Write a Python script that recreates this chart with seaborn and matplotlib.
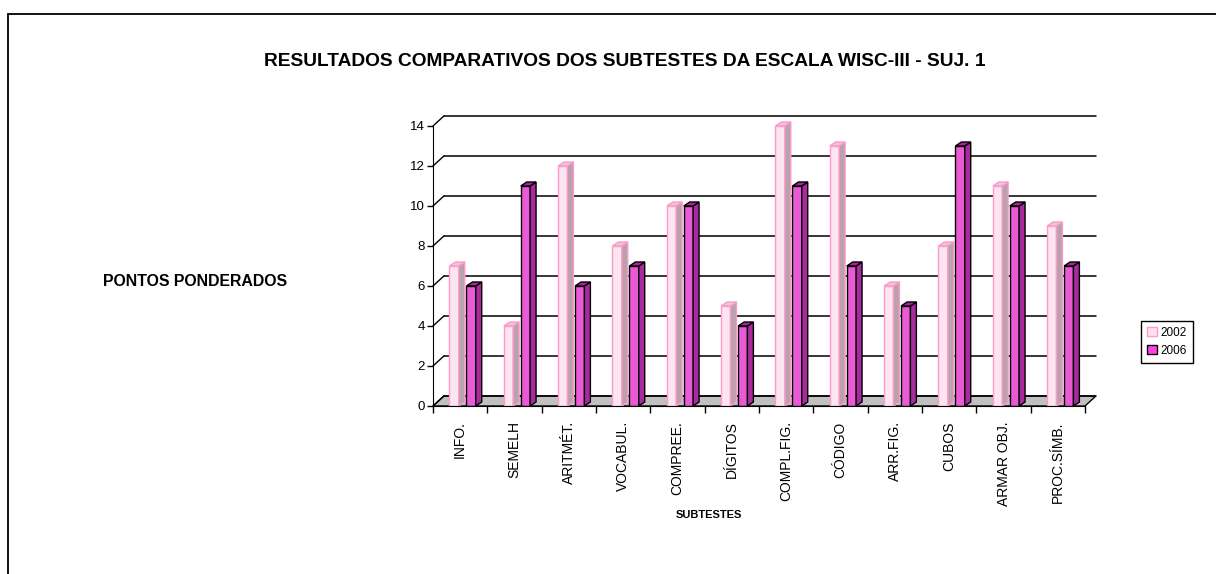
import numpy as np
import pandas as pd
import matplotlib.pyplot as plt
import seaborn as sns
from matplotlib.patches import Polygon, Patch, Rectangle

# Subtestes da escala WISC-III e pontos ponderados
subtestes = ["INFO.", "SEMELH", "ARITMÉT.", "VOCABUL.", "COMPREE.", "DÍGITOS",
             "COMPL.FIG.", "CÓDIGO", "ARR.FIG.", "CUBOS", "ARMAR OBJ.", "PROC.SÍMB."]
anos = ["2002", "2006"]
pontos_2002 = [7, 4, 12, 8, 10, 5, 14, 13, 6, 8, 11, 9]
pontos_2006 = [6, 11, 6, 7, 10, 4, 11, 7, 5, 13, 10, 7]
y_ticks = [0, 2, 4, 6, 8, 10, 12, 14]

df = pd.DataFrame({
    "subteste": subtestes * 2,
    "ano": [anos[0]] * len(subtestes) + [anos[1]] * len(subtestes),
    "pontos": pontos_2002 + pontos_2006,
})

sns.set_style("white")
plt.rcParams["font.family"] = ["Liberation Sans", "DejaVu Sans"]
plt.rcParams["text.color"] = "black"
plt.rcParams["xtick.color"] = "black"
plt.rcParams["ytick.color"] = "black"

face = {"2002": "#FFE2F0", "2006": "#FF44E6"}
side = {"2002": "#B8A2AC", "2006": "#A82A9C"}
top = {"2002": "#E6C8D6", "2006": "#B020A0"}
edge = {"2002": "#FF99CC", "2006": "#000000"}

W, H = 1216, 574
fig = plt.figure(figsize=(W / 100, H / 100), dpi=100)
ax = fig.add_axes([433 / W, 168 / H, 652 / W, 280 / H])

sns.barplot(data=df, x="subteste", y="pontos", hue="ano", hue_order=anos,
            palette=[face[a] for a in anos], width=0.624, gap=0.45,
            legend=False, ax=ax, zorder=3)

ax.set_xlim(-0.5, len(subtestes) - 0.5)
ax.set_ylim(0, 14)

# profundidade do "3D"
wall_dx, wall_dy = 0.2, 0.5
bar_dx, bar_dy = 0.11, 0.2
x0, x1 = -0.5, len(subtestes) - 0.5

# chão cinza
ax.add_patch(Polygon([(x0, 0), (x1, 0), (x1 + wall_dx, wall_dy), (x0 + wall_dx, wall_dy)],
                     closed=True, facecolor="#C0C0C0", edgecolor="black", lw=1,
                     zorder=1, clip_on=False))
# linhas de grade na parede do fundo
for v in y_ticks:
    ax.plot([x0 + wall_dx, x1 + wall_dx], [v + wall_dy, v + wall_dy], color="black",
            lw=1.1, zorder=1.5, clip_on=False)
    ax.plot([x0, x0 + wall_dx], [v, v + wall_dy], color="black", lw=1,
            zorder=1.5, clip_on=False)

# barras com lado e topo
for ano, cont in zip(anos, ax.containers):
    for bar in cont:
        bar.set_x(bar.get_x() + 0.045)
        bar.set_edgecolor(edge[ano])
        bar.set_linewidth(1)
        bx0 = bar.get_x()
        bx1 = bx0 + bar.get_width()
        h = bar.get_height()
        ax.add_patch(Polygon([(bx1, 0), (bx1 + bar_dx, bar_dy), (bx1 + bar_dx, h + bar_dy), (bx1, h)],
                             closed=True, facecolor=side[ano], edgecolor=edge[ano],
                             lw=1, zorder=3, clip_on=False))
        ax.add_patch(Polygon([(bx0, h), (bx1, h), (bx1 + bar_dx, h + bar_dy), (bx0 + bar_dx, h + bar_dy)],
                             closed=True, facecolor=top[ano], edgecolor=edge[ano],
                             lw=1, zorder=3, clip_on=False))

sns.despine(ax=ax, top=True, right=True)
ax.spines["left"].set_color("black")
ax.spines["bottom"].set_color("black")
ax.spines["left"].set_zorder(4)
ax.spines["bottom"].set_zorder(4)

ax.set_yticks(y_ticks)
ax.tick_params(axis="y", direction="out", length=4, width=1, pad=2, labelsize=9.5,
               left=True)
ax.set_xticks(np.arange(-0.5, len(subtestes), 1), minor=True)
ax.tick_params(axis="x", which="major", length=0, pad=11, labelsize=10,
               labelrotation=90)
ax.tick_params(axis="x", which="minor", direction="out", length=5, width=1,
               bottom=True)
ax.set_xlabel("")
ax.set_ylabel("")

fig.text(625 / W, 1 - 62 / H,
         "RESULTADOS COMPARATIVOS DOS SUBTESTES DA ESCALA WISC-III - SUJ. 1",
         ha="center", va="center", fontsize=13.8, fontweight="bold")
fig.text(195 / W, 1 - 281 / H, "PONTOS PONDERADOS", ha="center", va="center",
         fontsize=11.4, fontweight="bold")
fig.text(709 / W, 1 - 515 / H, "SUBTESTES", ha="center", va="center",
         fontsize=8, fontweight="bold")

handles = [Patch(facecolor=face[a], edgecolor=edge[a], lw=1, label=a) for a in anos]
fig.legend(handles=handles, loc="center", bbox_to_anchor=(1167 / W, 1 - 342 / H),
           fontsize=8.5, frameon=True, fancybox=False, edgecolor="black",
           framealpha=1, handlelength=0.8, handleheight=0.8, handletextpad=0.3,
           borderpad=0.5, labelspacing=0.5)

# moldura da área do gráfico
fig.patches.append(Rectangle((8 / W, -0.1), 1.2, 1.1 - 14 / H, transform=fig.transFigure,
                             fill=False, edgecolor="black", lw=1.3))

fig.savefig("out.png", dpi=100)
